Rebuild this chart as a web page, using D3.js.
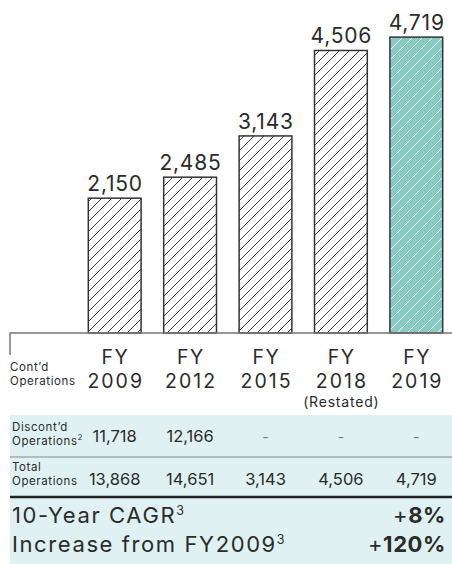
<!DOCTYPE html>
<html lang="en">
<head>
	<meta charset="utf-8"/>
	<title>Continuing Operations FY2009-FY2019</title>
	<script src="https://d3js.org/d3.v7.min.js" charset="utf-8"></script>
	<style>
		body { margin: 0; background: #fff; }
		svg { display: block; font-family: Inter, "Open Sans", sans-serif; }
		text { fill: #2b2b2b; }
	</style>
</head>
<body>
<div id="chart"></div>

<script>
	// chart values
	var years = ["2009", "2012", "2015", "2018", "2019"];
	var notes = ["", "", "", "(Restated)", ""];
	var contOps = [2150, 2485, 3143, 4506, 4719];
	var discOps = [11718, 12166, null, null, null];
	var totalOps = [13868, 14651, 3143, 4506, 4719];
	var cagr = 8, increase = 120;

	var width = 452,
		height = 564;

	var svg = d3.select("#chart").append("svg")
		.attr("width", width)
		.attr("height", height);

	var fmt = d3.format(",");

	// hatch patterns
	var defs = svg.append("defs");
	function hatch(id, bg, line) {
		var p = defs.append("pattern")
			.attr("id", id)
			.attr("patternUnits", "userSpaceOnUse")
			.attr("width", 10)
			.attr("height", 10);
		p.append("rect").attr("width", 10).attr("height", 10).attr("fill", bg);
		p.append("path")
			.attr("d", "M-1,11 L11,-1 M-6,6 L6,-6 M4,16 L16,4")
			.attr("stroke", line)
			.attr("stroke-width", 0.9);
	}
	hatch("hatchWhite", "#fff", "#222");
	hatch("hatchTeal", "#88cbc3", "#fff");

	var x = d3.scaleBand()
		.domain(years)
		.range([77, 454])
		.paddingInner(0.3)
		.paddingOuter(0.15);

	var y = d3.scaleLinear()
		.domain([0, 5000])
		.range([333, 19.5]);

	function cx(i) { return x(years[i]) + x.bandwidth() / 2; }

	// bars
	svg.append("g")
		.selectAll("rect")
		.data(contOps)
		.enter().append("rect")
			.attr("x", function(d, i) { return x(years[i]); })
			.attr("y", function(d) { return y(d); })
			.attr("width", x.bandwidth())
			.attr("height", function(d) { return y(0) - y(d); })
			.attr("fill", function(d, i) { return i == years.length - 1 ? "url(#hatchTeal)" : "url(#hatchWhite)"; })
			.attr("stroke", "#333")
			.attr("stroke-width", 1.5);

	// value labels
	svg.append("g")
		.selectAll("text")
		.data(contOps)
		.enter().append("text")
			.attr("x", function(d, i) { return cx(i) + 0.4; })
			.attr("y", function(d) { return y(d) - 7; })
			.attr("text-anchor", "middle")
			.attr("font-size", 21)
			.attr("letter-spacing", 0.8)
			.text(function(d) { return fmt(d); });

	// baseline axis
	svg.append("path")
		.attr("d", "M10,355 V" + y(0) + " H" + width)
		.attr("fill", "none")
		.attr("stroke", "#777")
		.attr("stroke-width", 1.5);

	// category labels, one text per line so the boxes stay apart
	function catLine(vals, yy, size, ls) {
		svg.append("g")
			.selectAll("text")
			.data(vals)
			.enter().append("text")
				.attr("x", function(d, i) { return cx(i) + ls / 2; })
				.attr("y", yy)
				.attr("text-anchor", "middle")
				.attr("font-size", size)
				.attr("letter-spacing", ls)
				.text(function(d) { return d; });
	}
	catLine(years.map(function() { return "FY"; }), 364, 19.5, 1.5);
	catLine(years, 388, 19.5, 2);
	catLine(notes, 407, 14, 0.8);

	function twoLines(l1, l2, sup, x0, y0) {
		svg.append("text").attr("x", x0).attr("y", y0).attr("font-size", 11.5).attr("letter-spacing", 0.6).text(l1);
		var t = svg.append("text").attr("x", x0).attr("y", y0 + 14).attr("font-size", 11.5).attr("letter-spacing", 0.6).text(l2);
		if (sup) t.append("tspan").attr("font-size", 7.5).attr("dy", -5).text(sup);
	}

	twoLines("Cont\u2019d", "Operations", null, 10, 371);

	// table
	svg.append("rect")
		.attr("x", 10).attr("y", 415)
		.attr("width", width - 10).attr("height", height - 415)
		.attr("fill", "#dff1f2");

	function rowValues(vals, yy) {
		svg.append("g")
			.selectAll("text")
			.data(vals)
			.enter().append("text")
				.attr("x", function(d, i) { return cx(i); })
				.attr("y", yy)
				.attr("text-anchor", "middle")
				.attr("font-size", function(d) { return d == null ? 14 : 16.5; })
				.style("fill", function(d) { return d == null ? "#777" : "#2b2b2b"; })
				.text(function(d) { return d == null ? "-" : fmt(d); });
	}

	twoLines("Discont\u2019d", "Operations", "2", 12, 431);
	rowValues(discOps, 442);

	svg.append("line")
		.attr("x1", 10).attr("x2", width)
		.attr("y1", 457).attr("y2", 457)
		.attr("stroke", "#888").attr("stroke-width", 1);

	twoLines("Total", "Operations", null, 12, 471);
	rowValues(totalOps, 485);

	svg.append("line")
		.attr("x1", 10).attr("x2", width)
		.attr("y1", 497).attr("y2", 497)
		.attr("stroke", "#222").attr("stroke-width", 2.5);

	// summary lines
	function summary(label, val, yy) {
		var t = svg.append("text").attr("x", 12).attr("y", yy).attr("font-size", 22).attr("letter-spacing", 1.6).text(label);
		t.append("tspan").attr("font-size", 12.5).attr("dy", -8).text("3");
		var v = svg.append("text").attr("x", 446).attr("y", yy).attr("text-anchor", "end").attr("font-size", 22).attr("letter-spacing", 0.6);
		v.append("tspan").text("+");
		v.append("tspan").attr("font-weight", "bold").text(val + "%");
	}
	summary("10-Year CAGR", cagr, 523);
	summary("Increase from FY2009", increase, 552);
</script>
</body>
</html>
